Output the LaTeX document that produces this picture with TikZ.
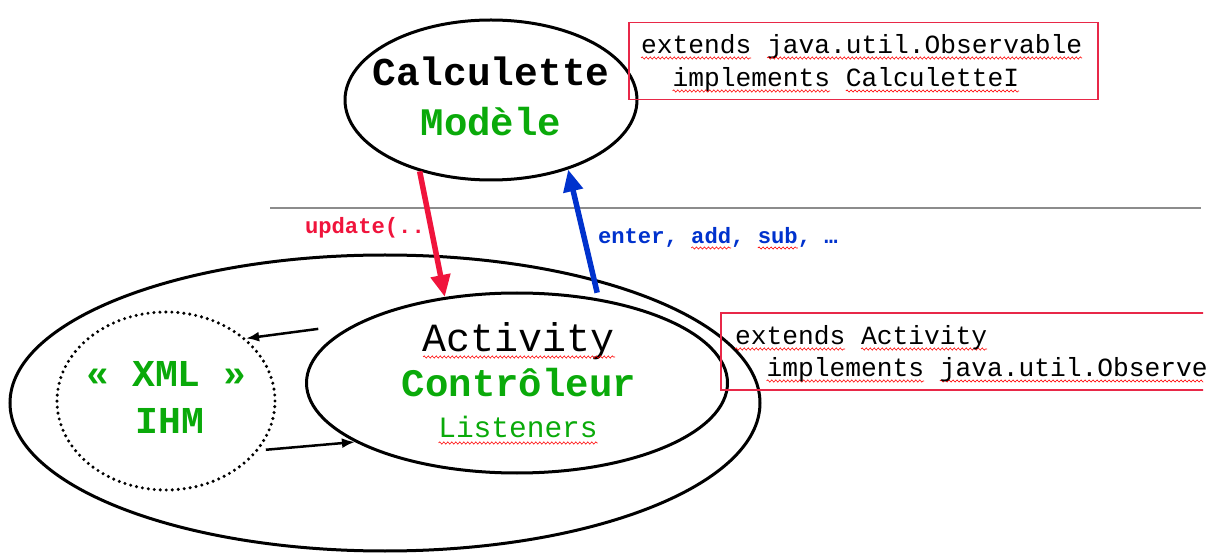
\documentclass[tikz,border=0pt]{standalone}
\usepackage{fontspec}
\setmonofont{Liberation Mono}
\usetikzlibrary{arrows.meta,shapes.geometric,decorations.pathmorphing}
\definecolor{arrred}{RGB}{240,20,60}
\definecolor{boxred}{RGB}{232,40,72}
\definecolor{mvcgreen}{RGB}{10,170,10}
\definecolor{mvcblue}{RGB}{0,50,205}
\definecolor{rulegray}{RGB}{140,140,140}
\newcommand\fsz[1]{\fontsize{#1}{#1}\selectfont}
\begin{document}
\begin{tikzpicture}[x=1pt,y=-1pt,
  oval/.style={draw=black, line width=3pt, ellipse, inner sep=0pt},
  dotoval/.style={draw=black, line width=3.4pt, ellipse, inner sep=0pt, dash pattern=on 0pt off 6pt, line cap=round},
  redbox/.style={draw=boxred, line width=1.6pt, rectangle, inner sep=0pt},
  txt/.style={inner sep=0pt, outer sep=0pt},
  bigred/.style={draw=arrred, line width=5.5pt, -{Triangle[length=22pt,width=19pt]}},
  bigblue/.style={draw=mvcblue, line width=5.5pt, -{Triangle[length=22pt,width=19pt]}},
  smallarrow/.style={draw=black, line width=2.5pt, -{Latex[length=13pt,width=10pt]}},
  squig/.style={draw=red, line width=0.6pt, decorate, decoration={snake, segment length=4pt, amplitude=1.1pt}},
  grayrule/.style={draw=rulegray, line width=1.4pt}]
\useasboundingbox (0,0) rectangle (1219,553);
\fill[white] (0,0) rectangle (1219,553);

% ellipses
\node[oval, minimum width=292pt, minimum height=160pt] (calc) at (491,100) {};
\node[oval, minimum width=750pt, minimum height=296pt] (outer) at (385,403) {};
\node[oval, minimum width=421pt, minimum height=180pt] (ctrl) at (517,383) {};
\node[dotoval, minimum width=218pt, minimum height=178pt] (xml) at (166,401) {};

% separator
\draw[grayrule] (270,208) -- (1201,208);

% boxes
\node[redbox, minimum width=469pt, minimum height=77pt] (box1) at (863.5,61) {};
\begin{scope}
\clip (0,0) rectangle (1203,553);
\node[redbox, minimum width=494pt, minimum height=77pt] (box2) at (968,351.5) {};
\draw[squig] (735,349) -- (845,349);
\draw[squig] (861,349) -- (987,349);
\draw[squig] (766.5,381) -- (924,381);
\draw[squig] (939.8,381) -- (1210,381);
\end{scope}
\node[txt, anchor=base west, font=\ttfamily\fsz{26.25}] (b2a) at (735,345) {extends Activity};
\node[txt, anchor=base west, font=\ttfamily\fsz{26.25}] (b2b) at (766.5,377) {implements java.util.Observe};

\node[txt, anchor=base west, font=\ttfamily\fsz{26.25}] (b1a) at (641,54) {extends java.util.Observable};
\node[txt, anchor=base west, font=\ttfamily\fsz{26.25}] (b1b) at (672.5,87) {implements CalculetteI};
\draw[squig] (641,58) -- (751,58);
\draw[squig] (767,58) -- (1082,58);
\draw[squig] (672.5,91) -- (830,91);
\draw[squig] (845.8,91) -- (1019,91);

% ellipse texts
\node[txt, anchor=base, font=\ttfamily\bfseries\fsz{39.5}] (tcalc) at (491,86) {Calculette};
\node[txt, anchor=base, font=\ttfamily\bfseries\fsz{39}, text=mvcgreen] (tmod) at (491,136) {Modèle};
\node[txt, anchor=base, font=\ttfamily\fsz{40}] (tact) at (519,352) {Activity};
\node[txt, anchor=base, font=\ttfamily\bfseries\fsz{39}, text=mvcgreen] (tctrl) at (519,397) {Contrôleur};
\node[txt, anchor=base, font=\ttfamily\fsz{29.5}, text=mvcgreen] (tlis) at (518,438) {Listeners};
\draw[squig] (423,357) -- (615,357);
\draw[squig] (438.5,443) -- (597.5,443);
\node[txt, anchor=base, font=\ttfamily\bfseries\fsz{38}, text=mvcgreen] (txml) at (166.5,387) {« XML »};
\node[txt, anchor=base, font=\ttfamily\bfseries\fsz{38}, text=mvcgreen] (tihm) at (170,434) {IHM};

% arrow labels
\node[txt, anchor=base west, font=\ttfamily\bfseries\fsz{22.2}, text=arrred] (lupd) at (305,234) {update(..};
\node[txt, anchor=base west, font=\ttfamily\bfseries\fsz{22.2}, text=mvcblue] (lent) at (598,244) {enter, add, sub, …};
\draw[squig] (691.2,248) -- (731.2,248);
\draw[squig] (757.8,248) -- (797.8,248);

% connectors
\draw[bigred] (calc.225) -- (ctrl.130);
\draw[bigblue, shorten <=6pt] (ctrl.46) -- (calc.318);
\draw[smallarrow, shorten <=37pt] (ctrl.160) -- (xml.38);
\draw[smallarrow, shorten <=7pt] (xml.-28) -- (ctrl.200);
\end{tikzpicture}
\end{document}
